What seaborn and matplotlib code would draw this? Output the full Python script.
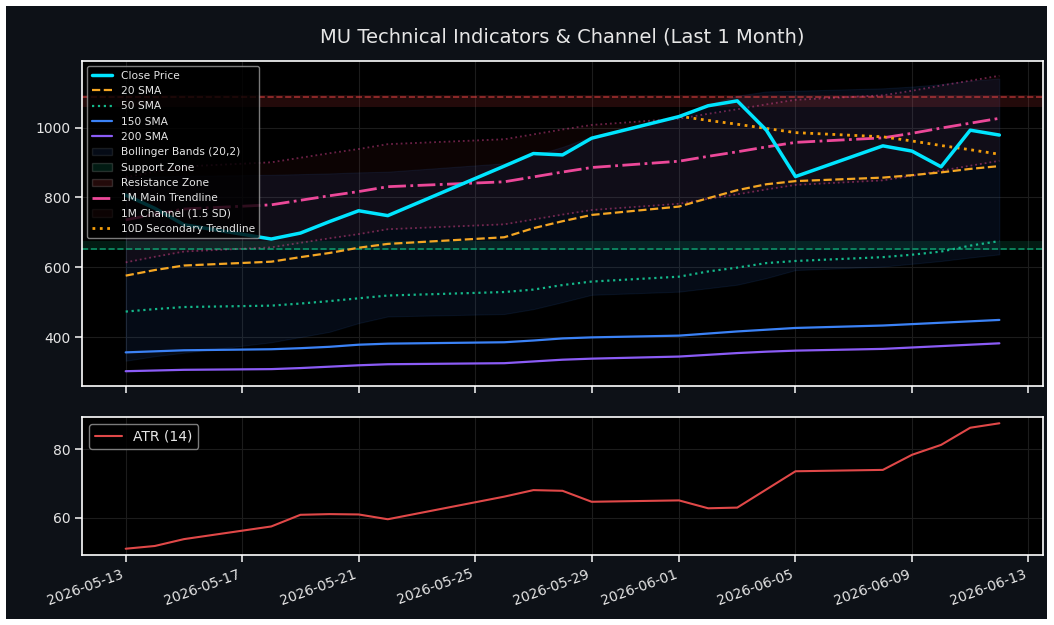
import matplotlib
matplotlib.use("Agg")
import pandas as pd
import matplotlib.pyplot as plt
import matplotlib.dates as mdates
import seaborn as sns
from matplotlib.patches import Rectangle, Patch
from matplotlib.lines import Line2D

# Data
dates = pd.to_datetime([
    "2026-05-13", "2026-05-14", "2026-05-15", "2026-05-18", "2026-05-19", "2026-05-20",
    "2026-05-21", "2026-05-22", "2026-05-26", "2026-05-27", "2026-05-28", "2026-05-29",
    "2026-06-01", "2026-06-02", "2026-06-03", "2026-06-04", "2026-06-05", "2026-06-08",
    "2026-06-09", "2026-06-10", "2026-06-11", "2026-06-12",
])
close = [807, 769, 722, 681, 698, 731, 762, 748, 890, 926, 922, 970,
         1032, 1063, 1077, 993, 860, 948, 933, 888, 993, 979]
sma20 = [576, 592, 605, 616, 629, 641, 656, 667, 686, 712, 732, 750,
         774, 798, 821, 838, 847, 857, 864, 872, 882, 890]
sma50 = [473, 480, 486, 490, 496, 503, 511, 519, 529, 536, 549, 559,
         573, 588, 599, 612, 618, 629, 636, 645, 662, 675]
sma150 = [356, 359, 362, 365, 368, 372, 378, 381, 385, 390, 396, 399,
          404, 410, 416, 421, 426, 433, 437, 441, 445, 449]
sma200 = [302, 304, 306, 308, 311, 315, 319, 322, 325, 330, 335, 338,
          344, 349, 354, 358, 361, 366, 370, 374, 378, 382]
bb_upper = [858, 860, 862, 865, 867, 869, 872, 874, 898, 920, 945, 975,
            1032, 1066, 1092, 1104, 1106, 1113, 1118, 1125, 1135, 1141]
bb_lower = [332, 345, 355, 385, 400, 415, 440, 459, 466, 480, 500, 521,
            530, 540, 550, 569, 592, 602, 610, 618, 628, 637]
trend = [736, 752, 767, 779, 792, 805, 817, 831, 845, 859, 873, 886,
         904, 918, 931, 945, 958, 971, 984, 999, 1013, 1027]
channel_sd = 81.3
sec_dates = dates[12:]
sec_trend = [1033, 1021, 1010, 998, 986, 974, 962, 949, 937, 924]
support_level, support_lo, support_hi = 652, 649, 676
resist_level, resist_lo, resist_hi = 1087, 1060, 1094
atr = [51.0, 51.8, 53.8, 57.5, 60.9, 61.1, 61.0, 59.6, 66.2, 68.1, 67.9, 64.7,
       65.1, 62.8, 63.0, 68.3, 73.6, 74.0, 78.4, 81.3, 86.3, 87.6]

ch_hi = [t + 1.5 * channel_sd for t in trend]
ch_lo = [t - 1.5 * channel_sd for t in trend]

txt = "#e6e6e6"
sns.set_theme(style="darkgrid", rc={
    "axes.facecolor": "black",
    "figure.facecolor": "white",
    "axes.edgecolor": "white",
    "axes.linewidth": 1.2,
    "grid.color": "#1c1c1c",
    "grid.linewidth": 0.8,
    "text.color": txt,
    "axes.labelcolor": txt,
    "xtick.color": txt,
    "ytick.color": txt,
    "xtick.bottom": True,
    "ytick.left": True,
    "xtick.major.size": 5,
    "ytick.major.size": 5,
    "xtick.major.width": 1.2,
    "ytick.major.width": 1.2,
    "xtick.labelsize": 10,
    "ytick.labelsize": 10,
})
plt.rcParams["font.family"] = ["DejaVu Sans"]

fig, (ax1, ax2) = plt.subplots(2, 1, figsize=(10.54, 6.25), dpi=100, sharex=True,
                               gridspec_kw={"height_ratios": [325, 138]})
fig.subplots_adjust(left=0.0778, right=0.9896, top=0.9024, bottom=0.112, hspace=0.134)
fig.patches.append(Rectangle((6 / 1054, 6 / 625), 1041 / 1054, 613 / 625,
                             transform=fig.transFigure, facecolor="#0d1117",
                             edgecolor="none", zorder=-10))

# Zones and bands
ax1.fill_between(dates, bb_lower, bb_upper, color="#3b82f6", alpha=0.09, lw=0.8)
ax1.axhspan(support_lo, support_hi, color="#10b981", alpha=0.15, lw=0)
ax1.axhline(support_level, color="#10b981", ls="--", lw=1.2, alpha=0.75)
ax1.axhspan(resist_lo, resist_hi, color="#ef4444", alpha=0.15, lw=0)
ax1.axhline(resist_level, color="#ef4444", ls="--", lw=1.2, alpha=0.6)
ax1.fill_between(dates, ch_lo, ch_hi, color="#ef4444", alpha=0.05, lw=0)
ax1.plot(dates, ch_hi, color="#ec4899", ls=":", lw=1.3, alpha=0.45)
ax1.plot(dates, ch_lo, color="#ec4899", ls=":", lw=1.3, alpha=0.45)

# Lines
sns.lineplot(x=dates, y=sma20, ax=ax1, color="#f5a623", lw=1.6, ls="--")
sns.lineplot(x=dates, y=sma50, ax=ax1, color="#14b88a", lw=1.6, ls=":")
sns.lineplot(x=dates, y=sma150, ax=ax1, color="#3b82f6", lw=1.6)
sns.lineplot(x=dates, y=sma200, ax=ax1, color="#8b5cf6", lw=1.6)
sns.lineplot(x=dates, y=trend, ax=ax1, color="#ec4899", lw=2, ls="-.")
sns.lineplot(x=sec_dates, y=sec_trend, ax=ax1, color="#f59e0b", lw=2, ls=":")
sns.lineplot(x=dates, y=close, ax=ax1, color="#00e5ff", lw=2.5)

handles = [
    Line2D([], [], color="#00e5ff", lw=2.5, label="Close Price"),
    Line2D([], [], color="#f5a623", lw=1.6, ls="--", label="20 SMA"),
    Line2D([], [], color="#14b88a", lw=1.6, ls=":", label="50 SMA"),
    Line2D([], [], color="#3b82f6", lw=1.6, label="150 SMA"),
    Line2D([], [], color="#8b5cf6", lw=1.6, label="200 SMA"),
    Patch(facecolor="#3b82f6", alpha=0.09, label="Bollinger Bands (20,2)"),
    Patch(facecolor="#10b981", alpha=0.15, label="Support Zone"),
    Patch(facecolor="#ef4444", alpha=0.15, label="Resistance Zone"),
    Line2D([], [], color="#ec4899", lw=2, ls="-.", label="1M Main Trendline"),
    Patch(facecolor="#ef4444", alpha=0.05, label="1M Channel (1.5 SD)"),
    Line2D([], [], color="#f59e0b", lw=2, ls=":", label="10D Secondary Trendline"),
]
ax1.legend(handles=handles, loc="upper left", fontsize=7.7, facecolor="black",
           edgecolor="#999999", framealpha=0.8, labelcolor=txt, handlelength=1.9)
ax1.set_title("MU Technical Indicators & Channel (Last 1 Month)", fontsize=14,
              color=txt, pad=13)
ax1.set_xlabel("")
ax1.set_ylabel("")

# ATR panel
sns.lineplot(x=dates, y=atr, ax=ax2, color="#e04848", lw=1.5, label="ATR (14)")
ax2.legend(loc="upper left", fontsize=10, facecolor="black", edgecolor="#999999",
           framealpha=0.8, labelcolor=txt)
ax2.set_xlabel("")
ax2.set_ylabel("")

ax2.xaxis.set_major_locator(mdates.DayLocator(bymonthday=[1, 5, 9, 13, 17, 21, 25, 29]))
ax2.xaxis.set_major_formatter(mdates.DateFormatter("%Y-%m-%d"))
plt.setp(ax2.get_xticklabels(), rotation=20, ha="right")

for ax in (ax1, ax2):
    for s in ax.spines.values():
        s.set_color("white")
        s.set_linewidth(1.2)

fig.savefig("out.png", dpi=100)
